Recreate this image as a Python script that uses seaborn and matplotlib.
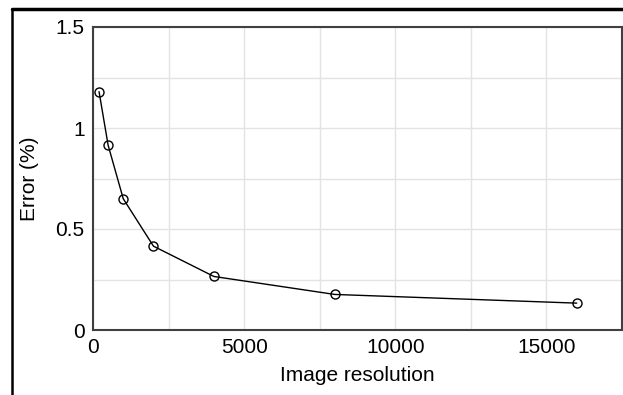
import numpy as np
import pandas as pd
import seaborn as sns
from matplotlib import pyplot as plt
from matplotlib.lines import Line2D
from matplotlib.ticker import MultipleLocator

resolution = [200, 500, 1000, 2000, 4000, 8000, 16000]
error_pct = [1.18, 0.915, 0.65, 0.415, 0.265, 0.176, 0.133]

df = pd.DataFrame({'Image resolution': resolution, 'Error (%)': error_pct})

sns.set_style('whitegrid')
plt.rcParams['font.family'] = ['Liberation Sans', 'DejaVu Sans']

fig = plt.figure(figsize=(6.23, 3.95), dpi=100)
ax = fig.add_axes([93 / 623, 1 - 330 / 395, 529 / 623, 303 / 395])

sns.lineplot(data=df, x='Image resolution', y='Error (%)', ax=ax,
             color='black', linewidth=1, marker='o', markersize=6.5,
             markerfacecolor='none', markeredgecolor='black', markeredgewidth=1)

ax.set_xlim(0, 17500)
ax.set_ylim(0, 1.5)
ax.set_xticks([0, 5000, 10000, 15000])
ax.set_yticks([0, 0.5, 1, 1.5])
ax.set_yticklabels(['0', '0.5', '1', '1.5'])
ax.xaxis.set_minor_locator(MultipleLocator(2500))
ax.yaxis.set_minor_locator(MultipleLocator(0.25))
ax.grid(True, which='both', color='#e3e3e3', linewidth=1)
ax.tick_params(axis='both', which='both', length=0, labelsize=15, colors='black')
ax.tick_params(axis='x', pad=6)
ax.tick_params(axis='y', pad=6)
ax.set_xlabel('Image resolution', fontsize=15, color='black', labelpad=6)
ax.set_ylabel('Error (%)', fontsize=15, color='black', labelpad=12)
for s in ax.spines.values():
    s.set_visible(True)
    s.set_color('#404040')
    s.set_linewidth(1.5)

# frame lines at the top and left of the figure
fig.add_artist(Line2D([11.5 / 623, 1], [1 - 8.5 / 395, 1 - 8.5 / 395], color='black', linewidth=2.5))
fig.add_artist(Line2D([12 / 623, 12 / 623], [0, 1 - 8.5 / 395], color='black', linewidth=1.8))

fig.savefig('out.png', dpi=100)
